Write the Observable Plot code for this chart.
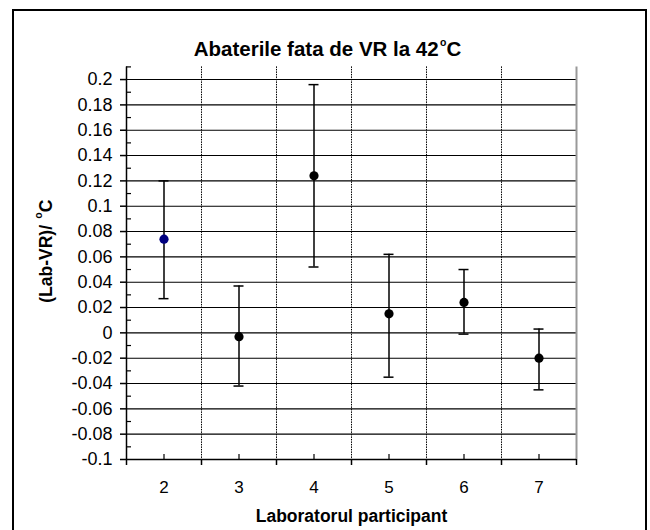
<!DOCTYPE html>
<html><head><meta charset="utf-8">
<script src="https://cdn.jsdelivr.net/npm/d3@7"></script>
<script src="https://cdn.jsdelivr.net/npm/@observablehq/plot@0.6"></script>
<style>
body{margin:0;background:#fff;}
#wrap{position:relative;width:650px;height:530px;overflow:hidden;background:#fff;}
#frame{position:absolute;left:12px;top:9px;width:631px;height:600px;border:2px solid #000;pointer-events:none;}
#wrap svg{position:absolute;left:0;top:0;}
</style></head><body><div id="wrap"><div id="frame"></div></div>
<script>
// ---- data ----
const labs   = [2, 3, 4, 5, 6, 7];
const values = [0.074, -0.003, 0.124, 0.015, 0.024, -0.020];
const lower  = [0.027, -0.042, 0.052, -0.035, -0.001, -0.045];
const upper  = [0.120, 0.037, 0.196, 0.062, 0.050, 0.003];
const yTicks = [-0.1, -0.08, -0.06, -0.04, -0.02, 0, 0.02, 0.04, 0.06, 0.08, 0.1, 0.12, 0.14, 0.16, 0.18, 0.2];
const yMinor = [-0.09, -0.07, -0.05, -0.03, -0.01, 0.01, 0.03, 0.05, 0.07, 0.09, 0.11, 0.13, 0.15, 0.17, 0.19, 0.21];
const yDomain = [-0.1, 0.21];
const title  = "Abaterile fata de VR la 42°C";
const yLabel = "(Lab-VR)/ °C";
const xLabel = "Laboratorul participant";

const data = labs.map((lab, i) => ({lab, value: values[i], lo: lower[i], hi: upper[i]}));
const bounds = [labs[0] - 0.5, ...labs.map(l => l + 0.5)];
const inner = bounds.slice(1, -1);
const last = bounds[bounds.length - 1];
const first = bounds[0];
const yMin = yDomain[0];

const font = "Arial, 'Liberation Sans', sans-serif";

const chart = Plot.plot({
  width: 650,
  height: 530,
  marginLeft: 126,
  marginRight: 74,
  marginTop: 66.4,
  marginBottom: 71,
  style: {fontFamily: font, fontSize: "16px", background: "transparent", color: "#000"},
  x: {domain: [first, last], axis: null},
  y: {domain: yDomain, axis: null},
  marks: [
    // horizontal grid
    Plot.ruleY(yTicks.filter(d => d !== yMin), {y: d => d, stroke: "#000", strokeWidth: 1.1}),
    // vertical dotted grid
    Plot.ruleX(inner, {x: d => d, stroke: "#000", strokeWidth: 1, strokeDasharray: "1.5,1"}),
    // right plot edge
    Plot.ruleX([last], {x: d => d, stroke: "#999", strokeWidth: 2}),
    // axes lines
    Plot.ruleY([yMin], {y: d => d, stroke: "#000", strokeWidth: 1.5}),
    Plot.ruleX([first], {x: d => d, stroke: "#000", strokeWidth: 1.5}),
    // y major ticks (outside)
    Plot.ruleY(yTicks, {y: d => d, x1: () => first, x2: () => first, insetLeft: -6, insetRight: 0, stroke: "#000", strokeWidth: 1.5}),
    // y minor ticks (inside)
    Plot.ruleY(yMinor, {y: d => d, x1: () => first, x2: () => first, insetLeft: 0, insetRight: -5, stroke: "#000", strokeWidth: 1.2}),
    // x major ticks (outside) at boundaries
    Plot.ruleX(bounds, {x: d => d, y1: () => yMin, y2: () => yMin, insetTop: 0, insetBottom: -6, stroke: "#000", strokeWidth: 1.5}),
    // x minor ticks (inside) at categories
    Plot.ruleX(labs, {x: d => d, y1: () => yMin, y2: () => yMin, insetTop: -5, insetBottom: 0, stroke: "#000", strokeWidth: 1.2}),
    // error bars
    Plot.ruleX(data, {x: "lab", y1: "lo", y2: "hi", stroke: "#000", strokeWidth: 1.5}),
    Plot.ruleY(data, {y: "hi", x1: "lab", x2: "lab", insetLeft: -5, insetRight: -5, stroke: "#000", strokeWidth: 1.5}),
    Plot.ruleY(data, {y: "lo", x1: "lab", x2: "lab", insetLeft: -5, insetRight: -5, stroke: "#000", strokeWidth: 1.5}),
    // points
    Plot.dot(data, {x: "lab", y: "value", r: 4.6, fill: d => d.lab === 2 ? "#000080" : "#000", stroke: "none"}),
    // y tick labels
    Plot.text(yTicks, {y: d => d, text: d => String(d), frameAnchor: "left", textAnchor: "end", lineAnchor: "middle", dx: -14, fontSize: 18, fill: "#000"}),
    // x tick labels
    Plot.text(labs, {x: d => d, text: d => String(d), frameAnchor: "bottom", textAnchor: "middle", lineAnchor: "middle", dy: 28, fontSize: 17, fill: "#000"}),
    // titles
    Plot.text([title], {text: d => d, frameAnchor: "top", textAnchor: "middle", lineAnchor: "middle", dx: -24, dy: -17, fontSize: 20.5, fontWeight: "bold", fill: "#000"}),
    Plot.text([xLabel], {text: d => d, frameAnchor: "bottom", textAnchor: "middle", lineAnchor: "middle", dy: 57, fontSize: 17.5, fontWeight: "bold", fill: "#000"}),
    Plot.text([yLabel], {text: d => d, frameAnchor: "left", textAnchor: "middle", lineAnchor: "middle", rotate: -90, dx: -80, dy: -12, fontSize: 17.5, fontWeight: "bold", fill: "#000"})
  ]
});

// render degree sign as a superscript "o"
chart.querySelectorAll("text").forEach(t => {
  const s = t.textContent;
  const k = s.indexOf("°");
  if (k < 0) return;
  const fs = parseFloat(t.getAttribute("font-size") || getComputedStyle(t).fontSize) || 17;
  while (t.firstChild) t.removeChild(t.firstChild);
  const ns = "http://www.w3.org/2000/svg";
  const a = document.createElementNS(ns, "tspan"); a.textContent = s.slice(0, k); t.appendChild(a);
  const o = document.createElementNS(ns, "tspan"); o.textContent = "o";
  o.setAttribute("font-size", (fs * 0.62).toFixed(1));
  o.setAttribute("dy", (-fs * 0.62).toFixed(1));
  o.setAttribute("dx", (fs * 0.08).toFixed(1));
  t.appendChild(o);
  const c = document.createElementNS(ns, "tspan"); c.textContent = s.slice(k + 1);
  c.setAttribute("dy", (fs * 0.62).toFixed(1));
  t.appendChild(c);
});

document.getElementById("wrap").prepend(chart);
</script>
</body></html>
